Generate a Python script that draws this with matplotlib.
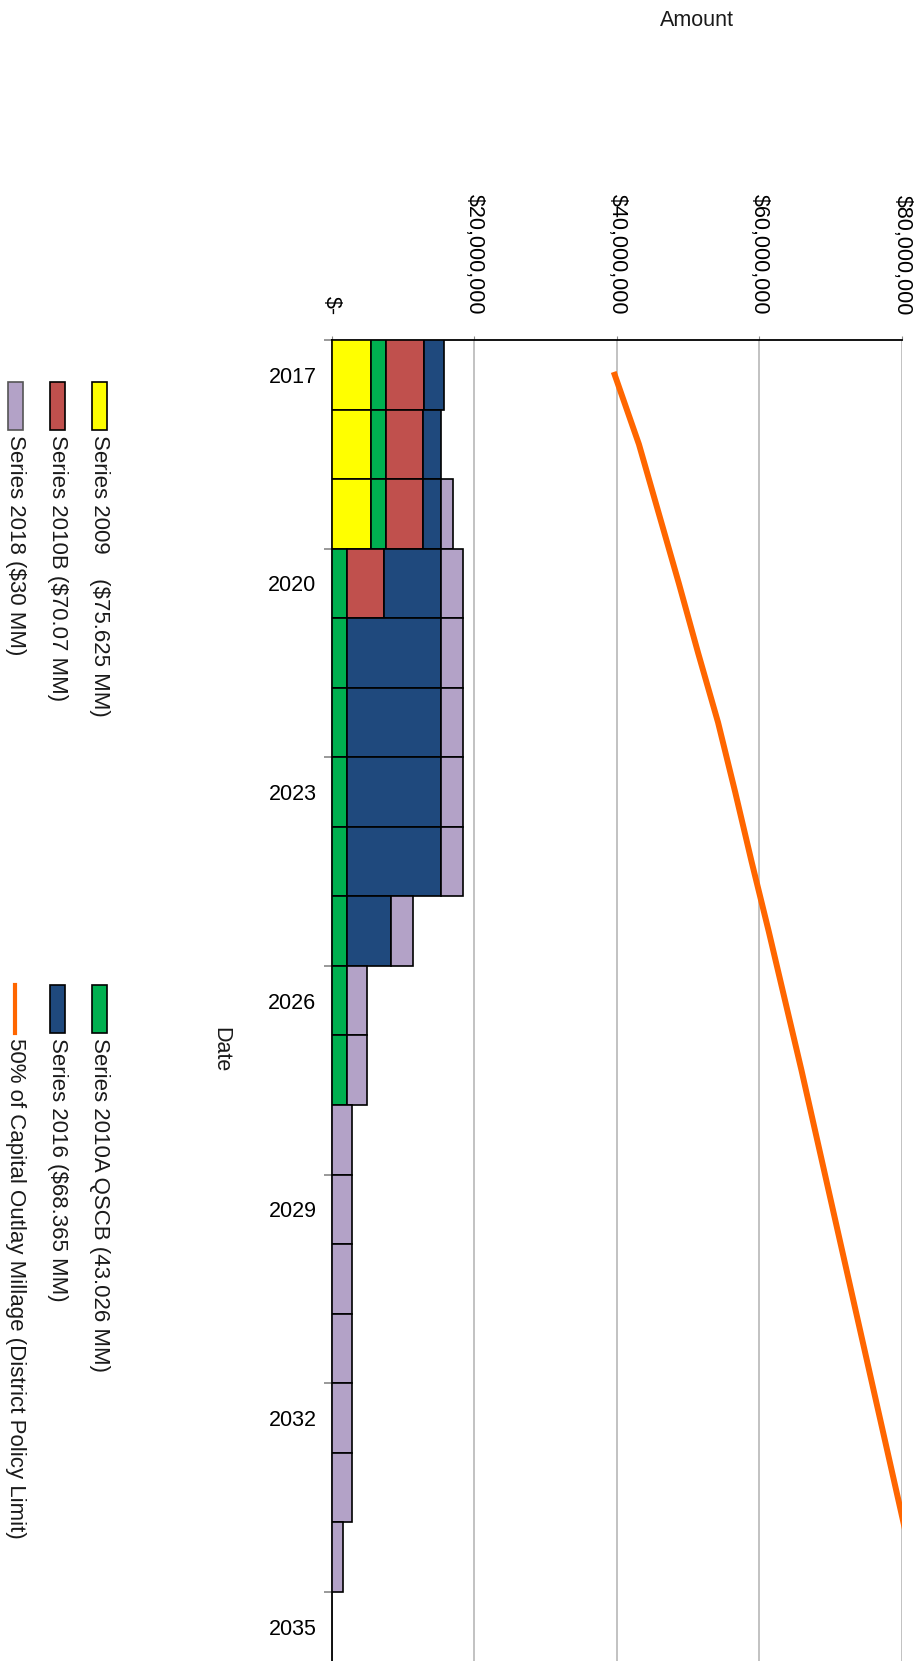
import numpy as np
import matplotlib.pyplot as plt
from matplotlib.ticker import FuncFormatter, NullFormatter
from matplotlib.patches import Rectangle
from matplotlib.lines import Line2D

plt.rcParams['font.family'] = ['Liberation Sans', 'DejaVu Sans']
plt.rcParams['font.size'] = 15.5
plt.rcParams['text.color'] = '#1a1a1a'

years = np.arange(2017, 2035)

# annual debt service per series, $ millions
s2009 = [5.47, 5.47, 5.47, 0, 0, 0, 0, 0, 0, 0, 0, 0, 0, 0, 0, 0, 0, 0]
s2010a = [2.2, 2.15, 2.15, 2.1, 2.1, 2.1, 2.1, 2.1, 2.1, 2.1, 2.1, 0, 0, 0, 0, 0, 0, 0]
s2010b = [5.23, 5.23, 5.23, 5.23, 0, 0, 0, 0, 0, 0, 0, 0, 0, 0, 0, 0, 0, 0]
s2016 = [2.8, 2.52, 2.52, 8.04, 13.27, 13.27, 13.27, 13.27, 6.26, 0, 0, 0, 0, 0, 0, 0, 0, 0]
s2018 = [0, 0, 1.6, 3.09, 3.09, 3.09, 3.09, 3.09, 3.0, 2.8, 2.8, 2.85, 2.85, 2.85, 2.85, 2.85, 2.85, 1.6]

# 50% of capital outlay millage, $ millions
limit = [39.7, 43.1, 45.9, 48.7, 51.4, 54.2, 56.6, 58.9, 61.3, 63.6, 65.9,
         68.1, 70.3, 72.5, 74.7, 76.9, 79.1, 81.3]

series = [s2009, s2010a, s2010b, s2016, s2018]
colors = ['#FFFF00', '#00B050', '#C0504D', '#1F497D', '#B3A2C7']

legend_labels = ['Series 2009    ($75.625 MM)', 'Series 2010B ($70.07 MM)', 'Series 2018 ($30 MM)',
                 'Series 2010A QSCB (43.026 MM)', 'Series 2016 ($68.365 MM)',
                 '50% of Capital Outlay Millage (District Policy Limit)']
legend_colors = ['#FFFF00', '#C0504D', '#B3A2C7', '#00B050', '#1F497D', '#FF6600']

label_years = [2017, 2020, 2023, 2026, 2029, 2032, 2035]

W, H = 923, 1661
fig = plt.figure(figsize=(W / 100, H / 100), dpi=100)

# axes in pixel terms: zero at x=332, $80M at x=902, top at y=340, 69.55 px per year
ax_left = 331.7 / W
ax_width = (902 - 331.7) / W
ax_top = 1 - 340 / H
ax_height = 20 * 69.55 / H
ax = fig.add_axes([ax_left, ax_top - ax_height, ax_width, ax_height])

acc = np.zeros(len(years))
for vals, col in zip(series, colors):
    vals = np.array(vals) * 1e6
    m = vals > 0
    ax.barh(years[m], vals[m], left=acc[m], height=1.0, color=col,
            edgecolor='black', linewidth=1.2, zorder=3)
    acc += vals

ax.plot(np.array(limit) * 1e6, years, color='#FF6600', lw=4.3, zorder=4)

ax.set_xlim(0, 80e6)
ax.set_ylim(2036.5, 2016.5)

ax.xaxis.tick_top()
ax.set_xticks([0, 20e6, 40e6, 60e6, 80e6])
ax.xaxis.set_major_formatter(FuncFormatter(lambda v, p: '$-' if v == 0 else '${:,.0f}'.format(v)))
ax.tick_params(axis='x', length=3, color='#888888', pad=15, labelrotation=-90, labelsize=15.5)

ax.set_yticks(np.arange(2016.5, 2037, 3))
ax.yaxis.set_major_formatter(NullFormatter())
ax.set_yticks(label_years, minor=True)
ax.set_yticklabels([str(y) for y in label_years], minor=True)
ax.tick_params(axis='y', which='major', length=6, width=1.2, color='#888888')
ax.tick_params(axis='y', which='minor', length=0, pad=11, labelsize=15.5)

ax.grid(axis='x', color='#BDBDBD', lw=1.3, zorder=0)
ax.set_axisbelow(True)
for side in ['right', 'bottom']:
    ax.spines[side].set_visible(False)
ax.spines['top'].set_linewidth(1.3)
ax.spines['left'].set_linewidth(1.3)

fig.text(697 / W, 1 - 21 / H, 'Amount', ha='center', va='center')
fig.text(221 / W, 1 - 1050 / H, 'Date', ha='center', va='center', rotation=-90)

# legend, two columns of vertical entries down the left side
slots = [(99.5, 382, 435), (57.5, 382, 435), (15.5, 382, 435),
         (99.5, 985, 1038), (57.5, 985, 1038), (15.5, 985, 1038)]
for (cx, ytop, ytext), lab, col in zip(slots, legend_labels, legend_colors):
    if col == '#FF6600':
        fig.add_artist(Line2D([cx / W, cx / W], [1 - ytop / H, 1 - (ytop + 48) / H],
                              color=col, lw=3, transform=fig.transFigure))
    else:
        ec = '#555555' if col == '#B3A2C7' else 'black'
        fig.add_artist(Rectangle(((cx - 7.5) / W, 1 - (ytop + 48) / H), 15 / W, 48 / H,
                                 facecolor=col, edgecolor=ec, lw=1.2, transform=fig.transFigure))
    fig.text(cx / W, 1 - ytext / H, lab, ha='center', va='top', rotation=-90, fontsize=16)

plt.savefig('out.png', dpi=100)
